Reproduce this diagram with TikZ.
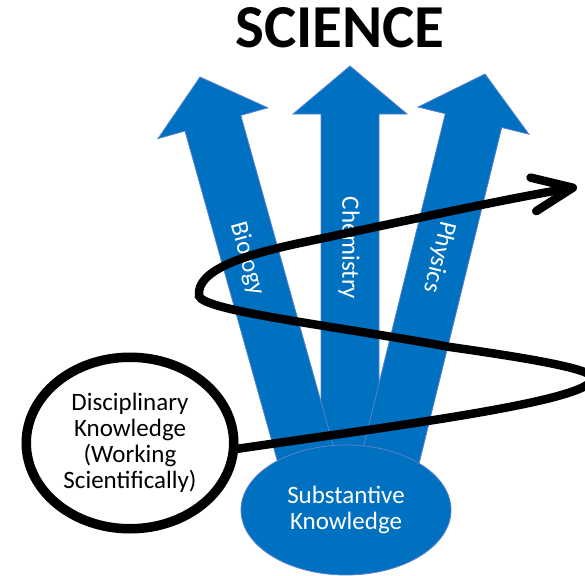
\documentclass[tikz,border=0pt]{standalone}
\usepackage{fontspec}
\setmainfont{Carlito}
\usetikzlibrary{shapes.geometric,arrows.meta}
\definecolor{sciblue}{RGB}{0,112,192}
\definecolor{sciedge}{RGB}{92,128,206}
\tikzset{
  subject/.style={fill=sciblue,draw=sciedge,line width=0.8pt},
  subjectname/.style={text=white,font=\fontsize{25}{26}\selectfont,inner sep=0pt},
  sweep/.style={line width=8.5pt,line cap=round,-{Straight Barb[length=40pt,width=34pt,round]}},
}

\begin{document}
\begin{tikzpicture}[x=1pt,y=-1pt]
\useasboundingbox (0,0) rectangle (585,575);
\coordinate (Tb) at (200,77);
\coordinate (Tc) at (350,66);
\coordinate (Tp) at (485,74);
\coordinate (E) at (577,187);

\draw[subject] (321,480) -- (321,114) -- (293,114) -- (Tc) -- (407,114) -- (379,114) -- (379,480) -- cycle;
\draw[subject] (284.9,487.8) -- (185.0,131.0) -- (158.0,138.6) -- (Tb) -- (267.8,107.8) -- (240.8,115.4) -- (340.7,472.2) -- cycle;
\draw[subject] (356.9,473.1) -- (445.3,113.7) -- (418.1,107.0) -- (Tp) -- (528.9,134.2) -- (501.7,127.5) -- (413.3,486.9) -- cycle;

\node[subjectname,rotate=-74.4] (bio) at (247,259) {Biology};
\node[subjectname,rotate=-90] (chem) at (349,248) {Chemistry};
\node[subjectname,rotate=-103.8] (phys) at (439,257) {Physics};

\node[ellipse,subject,subjectname,minimum width=210,minimum height=130,align=center] (subst) at (346,510) {Substantive\\Knowledge};

\node[anchor=base,font=\fontsize{61}{61}\selectfont\bfseries,inner sep=0pt] (title) at (340,48) {SCIENCE};

\node[ellipse,draw,line width=9.5pt,fill=white,minimum width=207.5,minimum height=171.5,align=center,font=\fontsize{25}{26}\selectfont] (disc) at (130,443) {Disciplinary\\Knowledge\\(Working\\Scientifically)};

\draw[sweep] (disc.-3) .. controls (400,425) and (600,400) .. (592,377)
  .. controls (589,368) and (520,357) .. (450,347)
  .. controls (330,325) and (204,311) .. (199,296)
  .. controls (196,270) and (244,255) .. (300,243)
  .. controls (400,222) and (500,200) .. (E);
\end{tikzpicture}
\end{document}
